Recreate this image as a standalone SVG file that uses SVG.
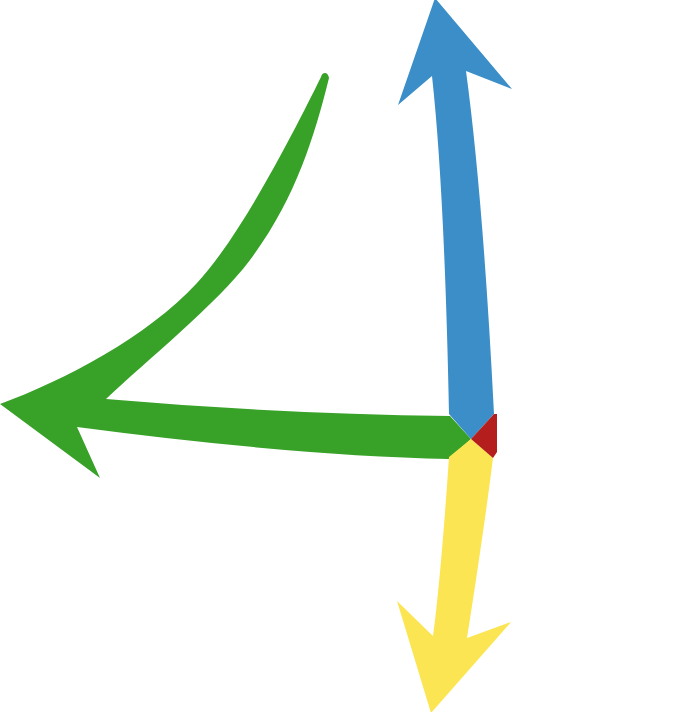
<svg xmlns="http://www.w3.org/2000/svg" width="689" height="712" viewBox="0 0 689 712">
<style>
.blue{fill:#3b8ec8}
.green{fill:#38a228}
.yellow{fill:#fce553}
.red{fill:#b41f1d}
</style>
<rect width="689" height="712" fill="#ffffff"/>
<g id="arrows">
<g id="green-arrow">
<path class="green" d="M0,404 C65,380 147,337 197,283 C242,234.4 296,127.8 321,77 C322,72 328,71 329,78 C314,138 295,200 250,260 C217,304 146,361 106,399 Q279,414 450,416 L471,439 L449,459 Q292,455.5 77,427 L100,478 Z"/>
</g>
<g id="blue-arrow">
<path class="blue" d="M449,414 Q444.5,190 432,76 L398,105 L435,-2 L512,89 L466,71 Q483,197 494,414 L471,439 Z"/>
</g>
<g id="yellow-arrow">
<path class="yellow" d="M471,439 L449,457 Q440.7,579 433,636 L397,601 L431,713 L511,622 L467,638 Q484,530 493,458 Z"/>
</g>
<g id="red-stub">
<path class="red" d="M471,439 L494,414 L497,414 L497,452 L493,458 Z"/>
</g>
</g>
</svg>
